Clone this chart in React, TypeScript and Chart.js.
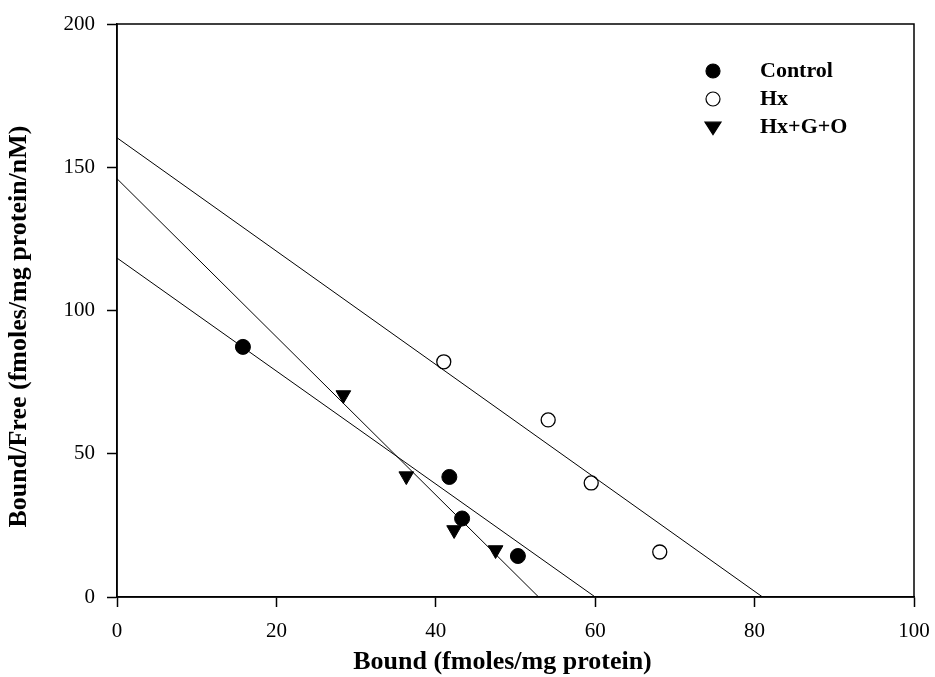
import React, { useEffect, useRef } from "react";
import { Chart, registerables } from "chart.js";

Chart.register(...registerables);

const controlX = [15.8, 41.7, 43.3, 50.3];
const controlY = [87.3, 41.9, 27.4, 14.3];
const hxX = [41.0, 54.1, 59.5, 68.1];
const hxY = [82.1, 61.8, 39.8, 15.7];
const hgoX = [28.4, 36.3, 42.3, 47.5];
const hgoY = [70.5, 42.2, 23.4, 16.4];

// regression lines: [x, y] endpoints
const controlLine = [[0, 118.3], [60.0, 0]];
const hxLine = [[0, 160.3], [81.0, 0]];
const hgoLine = [[0, 146.0], [52.9, 0]];

const xTicks = [0, 20, 40, 60, 80, 100];
const yTicks = [0, 50, 100, 150, 200];

const xTitle = "Bound (fmoles/mg protein)";
const yTitle = "Bound/Free (fmoles/mg protein/nM)";

const FONT = "'Liberation Serif', 'Times New Roman', serif";

const zip = (xs: number[], ys: number[]) => xs.map((x, i) => ({ x, y: ys[i] }));
const toPts = (l: number[][]) => l.map(([x, y]) => ({ x, y }));

const framePlugin = {
  id: "frame",
  afterDraw(chart: any) {
    const { ctx, chartArea } = chart;
    ctx.save();
    ctx.strokeStyle = "#000";
    ctx.lineWidth = 1.5;
    ctx.strokeRect(chartArea.left, chartArea.top, chartArea.right - chartArea.left, chartArea.bottom - chartArea.top);
    ctx.restore();
  },
};

const titlesPlugin = {
  id: "axisTitles",
  afterDraw(chart: any) {
    const { ctx, chartArea } = chart;
    ctx.save();
    ctx.fillStyle = "#000";
    ctx.font = `bold 26px ${FONT}`;
    ctx.textAlign = "center";
    ctx.textBaseline = "middle";
    const cx = (chartArea.left + chartArea.right) / 2 - 13;
    ctx.fillText(xTitle, cx, chartArea.bottom + 65);
    const cy = (chartArea.top + chartArea.bottom) / 2 + 16;
    ctx.translate(19, cy);
    ctx.rotate(-Math.PI / 2);
    ctx.fillText(yTitle, 0, 0);
    ctx.restore();
  },
};

const legendPlugin = {
  id: "customLegend",
  afterDraw(chart: any) {
    const { ctx } = chart;
    const items = chart.data.datasets.filter((d: any) => d.showInLegend);
    const mx = 713;
    const tx = 760;
    let y = 71;
    ctx.save();
    items.forEach((d: any) => {
      ctx.strokeStyle = "#000";
      ctx.lineWidth = 1.2;
      ctx.fillStyle = d.pointBackgroundColor;
      ctx.beginPath();
      if (d.pointStyle === "triangle") {
        const r = 8;
        ctx.moveTo(mx - r, y - r * 0.6);
        ctx.lineTo(mx + r, y - r * 0.6);
        ctx.lineTo(mx, y + r * 0.95);
        ctx.closePath();
      } else {
        ctx.arc(mx, y, 7, 0, Math.PI * 2);
      }
      ctx.fill();
      ctx.stroke();
      ctx.fillStyle = "#000";
      ctx.font = `bold 22px ${FONT}`;
      ctx.textBaseline = "middle";
      ctx.textAlign = "left";
      ctx.fillText(d.label, tx, y);
      y += 28;
    });
    ctx.restore();
  },
};

export default function App() {
  const ref = useRef<HTMLCanvasElement>(null);
  useEffect(() => {
    document.body.style.margin = "0";
    if (!ref.current) return;
    const lineDs = (data: any[]) => ({
      type: "line" as const,
      data,
      borderColor: "#000",
      borderWidth: 1,
      pointRadius: 0,
      fill: false,
      showLine: true,
    });
    const tickGrid = { display: true, drawOnChartArea: false, drawTicks: true, tickLength: 10, color: "#000", tickWidth: 1.5 };
    const chart = new Chart(ref.current, {
      type: "scatter",
      data: {
        datasets: [
          lineDs(toPts(controlLine)),
          lineDs(toPts(hxLine)),
          lineDs(toPts(hgoLine)),
          {
            label: "Control",
            data: zip(controlX, controlY),
            pointStyle: "circle",
            pointRadius: 7.5,
            pointBackgroundColor: "#000",
            pointBorderColor: "#000",
            pointBorderWidth: 1,
            showInLegend: true,
          } as any,
          {
            label: "Hx",
            data: zip(hxX, hxY),
            pointStyle: "circle",
            pointRadius: 7,
            pointBackgroundColor: "#fff",
            pointBorderColor: "#000",
            pointBorderWidth: 1.3,
            showInLegend: true,
          } as any,
          {
            label: "Hx+G+O",
            data: zip(hgoX, hgoY),
            pointStyle: "triangle",
            rotation: 180,
            pointRadius: 8.5,
            pointBackgroundColor: "#000",
            pointBorderColor: "#000",
            pointBorderWidth: 1,
            showInLegend: true,
          } as any,
        ],
      },
      options: {
        animation: false,
        responsive: false,
        layout: { padding: { top: 24, right: 21, left: 0, bottom: 0 } },
        plugins: { legend: { display: false }, tooltip: { enabled: false } },
        scales: {
          x: {
            type: "linear",
            min: 0,
            max: 100,
            afterBuildTicks: (s: any) => { s.ticks = xTicks.map((v) => ({ value: v })); },
            afterFit: (s: any) => { s.height = 80; s.paddingLeft = 0; s.paddingRight = 0; },
            grid: tickGrid,
            border: { display: true, color: "#000", width: 1.5 },
            ticks: { color: "#000", font: { family: FONT, size: 21 }, padding: 12, maxRotation: 0 },
            title: { display: false },
          },
          y: {
            type: "linear",
            min: 0,
            max: 200,
            afterBuildTicks: (s: any) => { s.ticks = yTicks.map((v) => ({ value: v })); },
            afterFit: (s: any) => { s.width = 117; s.paddingTop = 0; s.paddingBottom = 0; },
            grid: tickGrid,
            border: { display: true, color: "#000", width: 1.5 },
            ticks: { color: "#000", font: { family: FONT, size: 21 }, padding: 12 },
            title: { display: false },
          },
        },
      } as any,
      plugins: [framePlugin, titlesPlugin, legendPlugin],
    });
    return () => chart.destroy();
  }, []);
  return (
    <div style={{ width: 935, height: 677 }}>
      <canvas ref={ref} width={935} height={677} style={{ display: "block", width: 935, height: 677 }} />
    </div>
  );
}
